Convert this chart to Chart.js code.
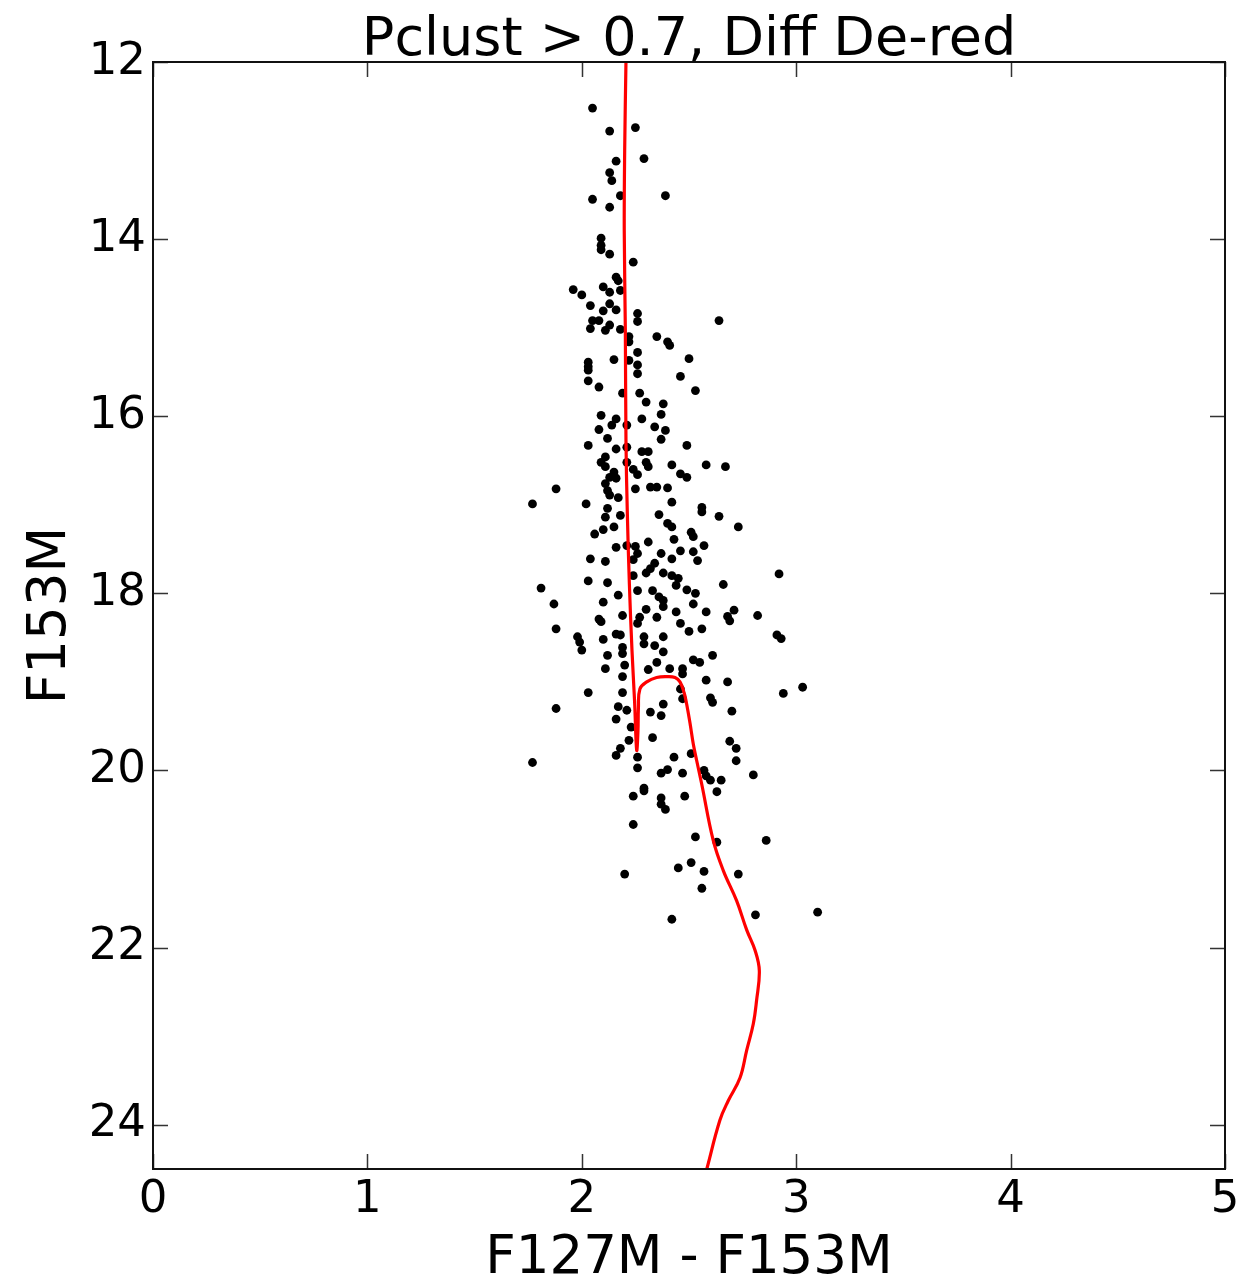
<!DOCTYPE html>
<html>
<head>
<meta charset="utf-8">
<title>Pclust > 0.7, Diff De-red</title>
<script src="https://cdn.jsdelivr.net/npm/chart.js@4.4.1/dist/chart.umd.min.js"></script>
<style>
  html, body { margin: 0; padding: 0; background: #fff; }
  #grafico { display: block; }
</style>
</head>
<body>
<canvas id="grafico" width="1258" height="1282"></canvas>
<script>
// cor (F127M - F153M) e magnitude (F153M) das estrelas
const starColor = [
  2.05, 2.13, 2.25, 2.16, 2.29, 2.13, 2.14, 2.05, 2.18, 2.39, 2.13,
  2.09, 2.09, 2.09, 2.13, 2.24, 2.16, 2.17, 1.96, 2.00, 2.10, 2.13, 2.18, 2.04, 2.13, 2.10, 2.16, 2.26, 2.26, 2.05, 2.08,
  2.13, 2.04, 2.11, 2.18, 2.64, 2.22, 2.35, 2.40, 2.41, 2.22, 2.26, 2.03, 2.15, 2.22, 2.26, 2.50, 2.03,
  2.03, 2.26, 2.46, 2.03, 2.08, 2.19, 2.27, 2.53, 2.30, 2.38, 2.37, 2.09, 2.16, 2.28, 2.14, 2.21, 2.08, 2.34, 2.39, 2.12,
  2.37, 2.03, 2.16, 2.21, 2.28, 2.31, 2.49, 2.11, 2.09, 2.21, 2.30, 2.31, 2.42, 2.58, 2.67, 2.11, 2.15, 2.24, 2.26, 2.46,
  2.49, 2.13, 2.16, 2.11, 1.88, 2.25, 2.32, 2.35, 2.40, 2.12, 2.13, 2.17, 1.77, 2.02, 2.42, 2.12, 2.56,
  2.11, 2.18, 2.36, 2.56, 2.64, 2.40, 2.42, 2.73, 2.15, 2.10, 2.06, 2.51, 2.52, 2.43, 2.31, 2.16, 2.21, 2.25, 2.57, 2.46,
  2.52, 2.26, 2.37, 2.04, 2.11, 2.24, 2.42, 2.54, 2.34, 2.32, 2.30, 2.38, 2.24, 2.42, 2.45, 2.92, 2.03, 2.12, 2.44, 2.66,
  1.81, 2.26, 2.33, 2.49, 2.53, 2.17, 2.36, 2.38, 2.10, 1.87, 2.52, 2.38, 2.30, 2.44, 2.58, 2.71, 2.68, 2.82, 2.19, 2.27,
  2.35, 2.08, 2.09, 2.46, 2.69, 2.26, 1.88, 2.56, 2.50, 2.16, 2.18, 2.10, 2.29, 2.38, 1.98, 1.99, 2.91, 2.93, 2.29, 2.34,
  2.19,
  2.00, 2.12, 2.19, 2.38, 2.61, 2.52, 2.55, 2.35, 2.11, 2.20, 2.31, 2.41, 2.47, 2.47, 2.19, 2.58, 2.68, 3.03, 2.03, 2.19,
  2.46, 2.47, 2.60, 2.61, 2.94, 2.38, 1.88, 2.17, 2.21, 2.32, 2.37, 2.70, 2.16, 2.23, 2.33, 2.22, 2.69, 2.72, 2.18, 2.16,
  2.26, 2.43, 2.51, 2.72, 1.77, 2.26, 2.40, 2.37, 2.47, 2.57, 2.58, 2.80, 2.60, 2.65, 2.29,
  2.24, 2.29, 2.37, 2.37, 2.39, 2.48, 2.63, 2.24, 2.53, 2.63, 2.86, 2.20, 2.45, 2.51, 2.57, 2.73, 2.56, 2.81, 2.42, 3.10
];
const starMag = [
  12.52, 12.78, 12.74, 13.12, 13.09, 13.25, 13.34, 13.55, 13.51, 13.51, 13.64,
  13.99, 14.07, 14.12, 14.17, 14.26, 14.43, 14.47, 14.57, 14.63, 14.54, 14.60, 14.58, 14.75, 14.73, 14.81, 14.80, 14.84, 14.93, 14.92, 14.92,
  14.97, 15.01, 15.03, 15.02, 14.92, 15.10, 15.10, 15.16, 15.20, 15.16, 15.28, 15.39, 15.36, 15.37, 15.42, 15.35, 15.44,
  15.48, 15.52, 15.55, 15.60, 15.67, 15.74, 15.74, 15.71, 15.84, 15.86, 15.98, 15.99, 16.03, 16.03, 16.10, 16.10, 16.15, 16.12, 16.16, 16.25,
  16.26, 16.33, 16.37, 16.35, 16.40, 16.40, 16.33, 16.46, 16.52, 16.52, 16.52, 16.57, 16.55, 16.55, 16.57, 16.57, 16.63, 16.60, 16.66, 16.65,
  16.69, 16.69, 16.70, 16.76, 16.82, 16.82, 16.80, 16.80, 16.81, 16.84, 16.89, 16.92, 16.99, 16.99, 16.97, 17.04, 17.03,
  17.14, 17.12, 17.11, 17.08, 17.13, 17.21, 17.25, 17.25, 17.25, 17.28, 17.33, 17.31, 17.36, 17.39, 17.42, 17.48, 17.46, 17.47, 17.46, 17.52,
  17.53, 17.55, 17.55, 17.61, 17.64, 17.62, 17.61, 17.63, 17.66, 17.72, 17.77, 17.77, 17.80, 17.80, 17.83, 17.78, 17.86, 17.88, 17.91, 17.90,
  17.94, 17.97, 17.97, 17.96, 18.00, 18.02, 18.04, 18.08, 18.10, 18.12, 18.12, 18.15, 18.18, 18.21, 18.21, 18.19, 18.26, 18.25, 18.25, 18.27,
  18.27, 18.29, 18.32, 18.34, 18.31, 18.34, 18.40, 18.40, 18.43, 18.46, 18.47, 18.52, 18.49, 18.49, 18.49, 18.55, 18.47, 18.51, 18.57, 18.59,
  18.61,
  18.64, 18.70, 18.68, 18.66, 18.70, 18.75, 18.78, 18.78, 18.85, 18.81, 18.86, 18.85, 18.85, 18.91, 18.94, 18.98, 19.00, 19.06, 19.12, 19.12,
  19.08, 19.19, 19.18, 19.23, 19.13, 19.25, 19.30, 19.28, 19.32, 19.34, 19.38, 19.33, 19.42, 19.51, 19.63, 19.66, 19.67, 19.75, 19.75, 19.83,
  19.85, 19.85, 19.81, 19.89, 19.91, 19.97, 19.99, 20.03, 20.03, 20.00, 20.06, 20.05, 20.11, 20.11, 20.20,
  20.29, 20.23, 20.31, 20.38, 20.44, 20.29, 20.24, 20.61, 20.75, 20.81, 20.79, 21.17, 21.10, 21.04, 21.14, 21.17, 21.33, 21.63, 21.68, 21.60
];

// isócrona (linha vermelha)
const isoColor = [2.206, 2.200, 2.198, 2.203, 2.206, 2.212, 2.222, 2.234, 2.246, 2.256, 2.262, 2.264, 2.271,
  2.303, 2.349, 2.396, 2.435, 2.458, 2.477, 2.489, 2.505, 2.520, 2.536, 2.559, 2.613, 2.660, 2.722, 2.769,
  2.808, 2.828, 2.815, 2.800, 2.769, 2.738, 2.683, 2.644, 2.583];
const isoMag = [12.0, 13.0, 13.9, 15.0, 16.27, 17.06, 17.9, 18.64, 19.21, 19.77, 19.55, 19.3, 19.08,
  19.0, 18.95, 18.94, 18.95, 19.0, 19.12, 19.25, 19.47, 19.70, 19.89, 20.15, 20.79, 21.13, 21.47, 21.8,
  22.03, 22.26, 22.60, 22.86, 23.16, 23.47, 23.73, 23.95, 24.50];

const xTicks = [0, 1, 2, 3, 4, 5];
const yTicks = [12, 14, 16, 18, 20, 22, 24];
const titulo = "Pclust > 0.7, Diff De-red";

const pontos = starColor.map((c, i) => ({ x: c, y: starMag[i] }));
const isocrona = isoColor.map((c, i) => ({ x: c, y: isoMag[i] }));

const fonte = "'DejaVu Sans', 'Liberation Sans', sans-serif";

// moldura, ticks para dentro (estilo matplotlib) e título centrado na área do gráfico
const moldura = {
  id: 'moldura',
  afterDatasetsDraw(chart) {
    const { ctx, chartArea: a, scales: { x, y } } = chart;
    const tam = 15;
    ctx.save();
    ctx.strokeStyle = '#333';
    ctx.lineWidth = 1.5;
    ctx.beginPath();
    x.ticks.forEach(t => {
      const px = Math.round(x.getPixelForValue(t.value)) + 0.5;
      ctx.moveTo(px, a.bottom); ctx.lineTo(px, a.bottom - tam);
      ctx.moveTo(px, a.top); ctx.lineTo(px, a.top + tam);
    });
    y.ticks.forEach(t => {
      const py = Math.round(y.getPixelForValue(t.value)) + 0.5;
      ctx.moveTo(a.left, py); ctx.lineTo(a.left + tam, py);
      ctx.moveTo(a.right, py); ctx.lineTo(a.right - tam, py);
    });
    ctx.stroke();
    ctx.strokeStyle = '#111';
    ctx.lineWidth = 2;
    ctx.strokeRect(a.left, a.top, a.right - a.left, a.bottom - a.top);

    ctx.fillStyle = '#000';
    ctx.font = "54px " + fonte;
    ctx.textAlign = 'center';
    ctx.textBaseline = 'alphabetic';
    ctx.fillText(titulo, (a.left + a.right) / 2, a.top - 7);
    ctx.restore();
  }
};

new Chart(document.getElementById("grafico"), {
  type: "scatter",
  data: {
    datasets: [
      {
        label: "Isócrona",
        data: isocrona,
        showLine: true,
        borderColor: "#ff0000",
        borderWidth: 3.2,
        pointRadius: 0,
        tension: 0.4,
        order: 0
      },
      {
        label: "Pclust > 0.7",
        data: pontos,
        backgroundColor: "#000",
        borderWidth: 0,
        pointRadius: 4.4,
        order: 1
      }
    ]
  },
  options: {
    responsive: false,
    animation: false,
    devicePixelRatio: 1,
    events: [],
    layout: { padding: { top: 62, right: 33, left: 0, bottom: 0 } },
    plugins: {
      legend: { display: false },
      tooltip: { enabled: false },
      title: { display: false }
    },
    scales: {
      x: {
        type: "linear",
        min: 0,
        max: 5,
        afterBuildTicks: s => { s.ticks = xTicks.map(v => ({ value: v })); },
        afterFit: s => { s.height = 113; },
        grid: { display: false, drawTicks: false },
        border: { display: false },
        ticks: { color: "#000", font: { family: fonte, size: 45 }, padding: 4, maxRotation: 0 },
        title: {
          display: true,
          text: "F127M - F153M",
          color: "#000",
          font: { family: fonte, size: 53, lineHeight: 0.85 },
          padding: 0
        }
      },
      y: {
        type: "linear",
        min: 12,
        max: 24.5,
        reverse: true,
        afterBuildTicks: s => { s.ticks = yTicks.map(v => ({ value: v })); },
        afterFit: s => { s.width = 153; },
        grid: { display: false, drawTicks: false },
        border: { display: false },
        ticks: { color: "#000", font: { family: fonte, size: 45 }, padding: 7 },
        title: {
          display: true,
          text: "F153M",
          color: "#000",
          font: { family: fonte, size: 53, lineHeight: 1 },
          padding: { top: 25, bottom: 0 }
        }
      }
    }
  },
  plugins: [moldura]
});
</script>
</body>
</html>
